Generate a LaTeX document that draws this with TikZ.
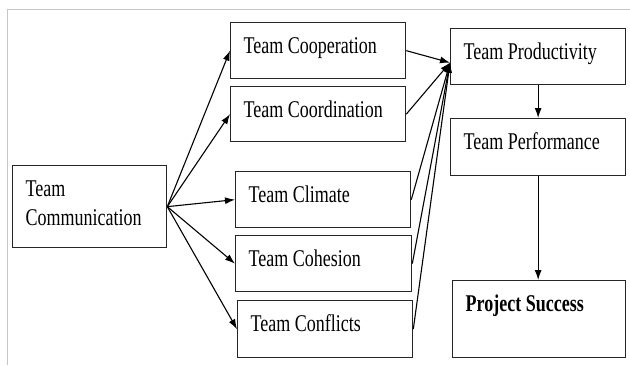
\documentclass[tikz,border=0pt]{standalone}
\usepackage{fontspec}
\setmainfont{Liberation Serif}[FakeStretch=0.75]
\usetikzlibrary{arrows.meta}

\newcommand\boxfont{\fontsize{24}{29}\selectfont\spaceskip=4.5pt\relax}
\tikzset{
  box/.style n args={2}{draw=black!85, line width=1.3pt, anchor=north west,
    inner xsep=13pt, inner ysep=0pt, align=flush left,
    text width=#1, text height=31pt, text depth=#2},
  link/.style={line width=1.1pt, -{Latex[length=10pt,width=7pt]}}
}

\begin{document}
\begin{tikzpicture}[x=1pt,y=-1pt,font=\boxfont]
\useasboundingbox (0,0) rectangle (630,365);
\draw[gray!45, line width=1pt] (7,365)--(7,9)--(630,9);

\node[box={128pt}{51pt}] (comm) at (12,165) {Team\\Communication};

\node[box={149pt}{25pt}] (coop) at (230,22) {Team Cooperation};
\node[box={149pt}{24pt}] (coord) at (230,86) {Team Coordination};
\node[box={149pt}{25pt}] (climate) at (235,171) {Team Climate};
\node[box={150pt}{25pt}] (cohesion) at (235,235) {Team Cohesion};
\node[box={149pt}{26pt}] (conflicts) at (237,300) {Team Conflicts};

\node[box={149pt}{25pt}] (prod) at (450,28) {Team Productivity};
\node[box={149pt}{26pt}] (perf) at (450,118) {Team Performance};
\node[box={147pt}{46pt}] (success) at (452,280) {\textbf{Project Success}};

\coordinate (hub) at ([yshift=-6pt]prod.west);

\foreach \n in {coop,coord,climate,cohesion,conflicts}{
  \draw[link] (comm.east) -- (\n.west);
  \draw[link] (\n.east) -- (hub);
}
\draw[link] (prod.south) -- (perf.north);
\draw[link] (perf.south) -- (perf.south |- success.north);
\end{tikzpicture}
\end{document}
